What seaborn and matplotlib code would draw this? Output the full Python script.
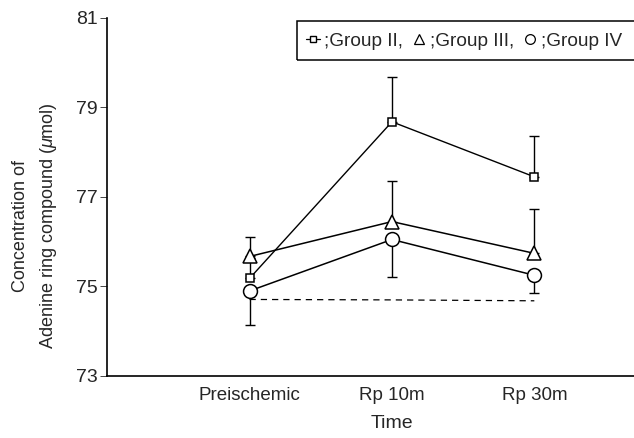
import matplotlib
matplotlib.use('Agg')
import matplotlib.pyplot as plt
from matplotlib.lines import Line2D
from matplotlib.patches import Rectangle
import numpy as np
import pandas as pd
import seaborn as sns

# data
times = ['Preischemic', 'Rp 10m', 'Rp 30m']
group2 = [75.18, 78.68, 77.45]
group2_err_up = [0.45, 0.99, 0.91]
group3 = [75.67, 76.45, 75.74]
group3_err_up = [0.44, 0.91, 1.00]
group4 = [74.90, 76.05, 75.25]
group4_err_down = [0.76, 0.83, 0.39]
baseline = [74.71, 74.70, 74.68]
y_ticks = [73, 75, 77, 79, 81]

sns.set_style('ticks')
plt.rcParams['font.family'] = ['Liberation Sans', 'DejaVu Sans']
plt.rcParams['mathtext.fontset'] = 'custom'
plt.rcParams['mathtext.it'] = 'Liberation Sans:italic'
plt.rcParams['mathtext.rm'] = 'Liberation Sans'

pos = np.arange(1, len(times) + 1)
df = pd.DataFrame({'pos': pos, 'g2': group2, 'g3': group3, 'g4': group4, 'base': baseline})

fig = plt.figure(figsize=(6.34, 4.38), dpi=100)
ax = fig.add_axes([0.169, 0.1416, 0.831, 0.8174])

# error bars (one sided)
ax.errorbar(pos, group2, yerr=[np.zeros(3), group2_err_up], fmt='none', ecolor='black',
            elinewidth=1, capsize=3.5, capthick=1)
ax.errorbar(pos, group3, yerr=[np.zeros(3), group3_err_up], fmt='none', ecolor='black',
            elinewidth=1, capsize=3.5, capthick=1)
ax.errorbar(pos, group4, yerr=[group4_err_down, np.zeros(3)], fmt='none', ecolor='black',
            elinewidth=1, capsize=3.5, capthick=1)

# dashed baseline
sns.lineplot(data=df, x='pos', y='base', ax=ax, color='black', linewidth=0.9,
             linestyle=(0, (5, 4)))

# groups
sns.lineplot(data=df, x='pos', y='g2', ax=ax, color='black', linewidth=1, marker='s',
             markersize=6, markerfacecolor='white', markeredgecolor='black', markeredgewidth=1.1)
sns.lineplot(data=df, x='pos', y='g3', ax=ax, color='black', linewidth=1.1, marker='^',
             markersize=10, markerfacecolor='white', markeredgecolor='black', markeredgewidth=1.1)
sns.lineplot(data=df, x='pos', y='g4', ax=ax, color='black', linewidth=1.1, marker='o',
             markersize=10, markerfacecolor='white', markeredgecolor='black', markeredgewidth=1.1)

ax.set_xlim(0, 3.7)
ax.set_ylim(73, 81)
ax.set_xticks(pos)
ax.set_xticklabels(times, fontsize=13.5)
ax.set_yticks(y_ticks)
ax.set_yticklabels([str(t) for t in y_ticks], fontsize=14)
ax.tick_params(axis='x', length=0, pad=8)
ax.tick_params(axis='y', length=5, width=0.6, pad=2)

sns.despine(ax=ax)
for s in ['left', 'bottom']:
    ax.spines[s].set_linewidth(1.2)
    ax.spines[s].set_color('black')

ax.set_xlabel('Time', fontsize=14, labelpad=8)
ax.xaxis.label.set_x(2 / 3.7)
ax.set_ylabel('Concentration of\nAdenine ring compound ($\\mu$mol)', fontsize=13,
              linespacing=1.6)
ax.yaxis.set_label_coords(-0.092, 0.42)

# legend box drawn separately so it runs off the right edge like the original
fig.patches.append(Rectangle((297 / 634, 1 - 60 / 438), 0.6, 39 / 438,
                             transform=fig.transFigure, fill=False,
                             edgecolor='black', linewidth=1.1))

handles = [
    Line2D([], [], color='black', lw=0.9, marker='s', ms=5, mfc='white', mec='black'),
    Line2D([], [], color='none', marker='^', ms=7.5, mfc='white', mec='black', mew=0.9),
    Line2D([], [], color='none', marker='o', ms=7, mfc='white', mec='black', mew=0.9),
]
labels = [';Group II,', ';Group III,', ';Group IV']
fig.legend(handles, labels, ncol=3, loc='center left',
           bbox_to_anchor=(306 / 634, 1 - 41 / 438), borderaxespad=0,
           fontsize=13.7, frameon=False, handlelength=0.75,
           handletextpad=0.2, columnspacing=0.45, borderpad=0)

fig.savefig('out.png', dpi=100)
